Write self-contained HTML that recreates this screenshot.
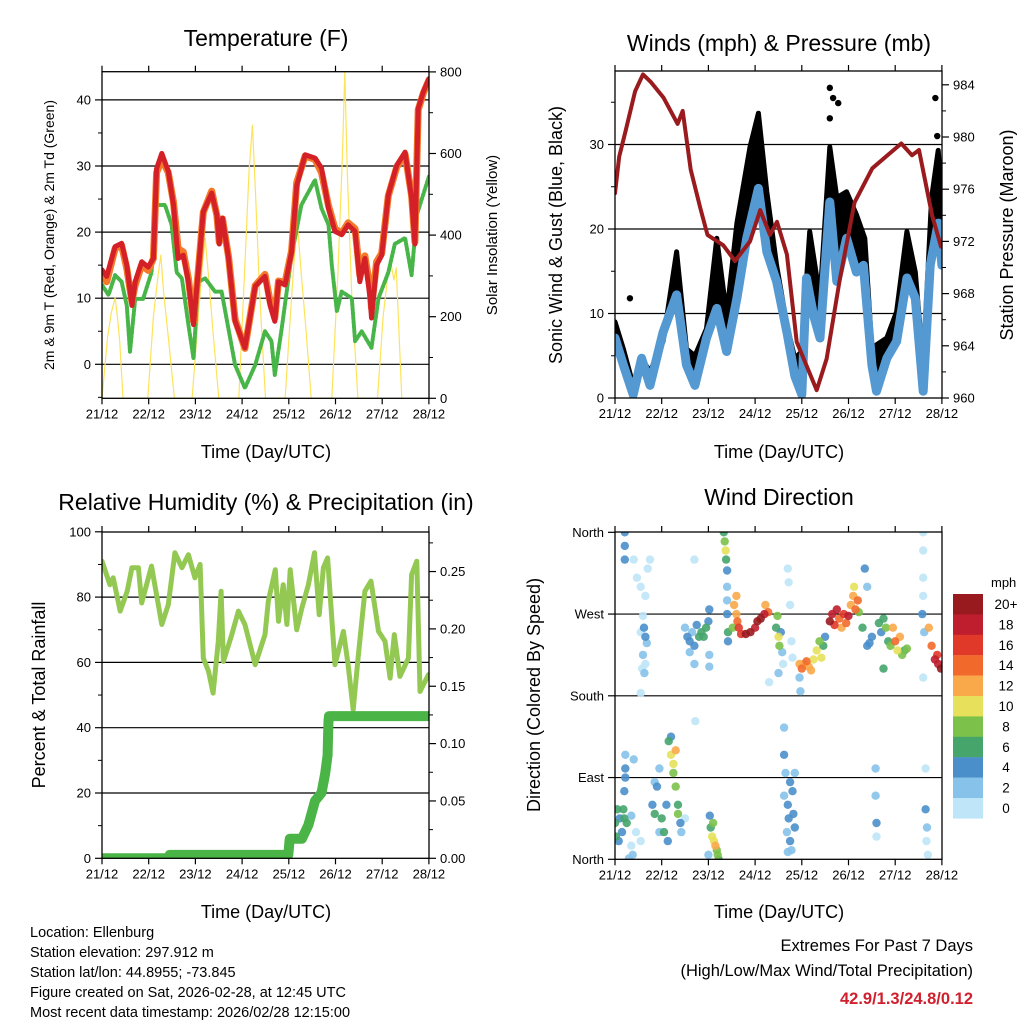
<!DOCTYPE html>
<html><head><meta charset="utf-8"><title>Ellenburg station meteogram</title>
<style>
html,body{margin:0;padding:0;background:#fff;}
svg{display:block;font-family:"Liberation Sans",Arial,sans-serif;}
</style></head>
<body>
<svg id="chart" width="1024" height="1024" viewBox="0 0 1024 1024" xmlns="http://www.w3.org/2000/svg">
<rect width="1024" height="1024" fill="#fff"/>
<g id="layer"></g>
<g font-size="23" text-anchor="middle" fill="#000">
 <text x="266" y="46">Temperature (F)</text>
 <text x="779" y="51">Winds (mph) &amp; Pressure (mb)</text>
 <text x="266" y="510">Relative Humidity (%) &amp; Precipitation (in)</text>
 <text x="779" y="505">Wind Direction</text>
</g>
<g font-size="18" text-anchor="middle" fill="#000">
 <text x="266" y="458">Time (Day/UTC)</text>
 <text x="779" y="458">Time (Day/UTC)</text>
 <text x="266" y="918">Time (Day/UTC)</text>
 <text x="779" y="918">Time (Day/UTC)</text>
 <text font-size="14" transform="translate(54,235) rotate(-90)">2m &amp; 9m T (Red, Orange) &amp; 2m Td (Green)</text>
 <text font-size="15" transform="translate(497,235) rotate(-90)">Solar Insolation (Yellow)</text>
 <text transform="translate(562,235) rotate(-90)">Sonic Wind &amp; Gust (Blue, Black)</text>
 <text transform="translate(1013,235) rotate(-90)">Station Pressure (Maroon)</text>
 <text transform="translate(45,695) rotate(-90)">Percent &amp; Total Rainfall</text>
 <text transform="translate(540,695) rotate(-90)">Direction (Colored By Speed)</text>
</g>
<g font-size="14.5" fill="#000">
 <text x="30" y="937">Location: Ellenburg</text>
 <text x="30" y="957">Station elevation: 297.912 m</text>
 <text x="30" y="977">Station lat/lon: 44.8955; -73.845</text>
 <text x="30" y="997">Figure created on Sat, 2026-02-28, at 12:45 UTC</text>
 <text x="30" y="1017">Most recent data timestamp: 2026/02/28 12:15:00</text>
</g>
<g font-size="16.5" text-anchor="end" fill="#000">
 <text x="973" y="951">Extremes For Past 7 Days</text>
 <text x="973" y="976">(High/Low/Max Wind/Total Precipitation)</text>
 <text x="973" y="1004" font-weight="bold" fill="#d0202e">42.9/1.3/24.8/0.12</text>
</g>
</svg>
<script>
// ---------- data ----------
const dayLabels = ["21/12","22/12","23/12","24/12","25/12","26/12","27/12","28/12"];
const tempTicks = [0,10,20,30,40];
const solarTicks = [0,200,400,600,800];
const windTicks = [0,10,20,30];
const presTicks = [960,964,968,972,976,980,984];
const rhTicks = [0,20,40,60,80,100];
const precipTicks = [0,0.05,0.10,0.15,0.20,0.25];
const dirTicks = [0,90,180,270,360];
const dirLabels = ["North","East","South","West","North"];
const speedBins = ["0","2","4","6","8","10","12","14","16","18","20+"];
const speedColors = ["#bfe5f8","#86c2ea","#4a8fca","#45a56b","#7bc14a","#e6e05a","#f9a84a","#f26a2b","#e0392a","#be1e2d","#981a1e"];

const t2mTimes = [0,0.1,0.28,0.42,0.53,0.64,0.71,0.85,0.99,1.1,1.17,1.28,1.42,1.53,1.63,1.74,1.85,1.96,2.06,2.17,2.35,2.46,2.51,2.58,2.71,2.85,3.06,3.28,3.49,3.6,3.7,3.78,3.92,4.06,4.17,4.35,4.56,4.7,4.85,4.99,5.13,5.27,5.42,5.52,5.63,5.74,5.77,5.88,5.99,6.13,6.31,6.49,6.63,6.7,6.77,6.88,7.0];
const t2mValues = [14.3,13.3,17.8,18.3,15,8.9,12.5,15.5,14.7,16,29.6,31.9,29.2,24.1,16,16.5,12.5,6,14,23.1,25.9,22.6,18.2,22.1,16,6.5,2.5,11.8,13.3,8.9,6.5,12.5,12,17,27,31.7,31.2,29.7,23.6,20.1,19.6,21.1,20.1,12.5,16,10,7,15,16.5,25.6,30.1,32.1,25.1,18.2,38.7,41.2,43.2];
const t9mValues = [13.5,12.5,17.5,18,14.5,9.5,12,15,14.2,16,29,31,29,24.5,17.5,17,13,6.5,14,23,26.2,22.5,18.5,22,16.2,6.8,2.4,11.9,13.6,9.5,7,12.6,12.4,17.2,27.5,31.5,31,29,24,20.5,19.8,21.4,20.5,13.5,16.4,11.5,8.5,15.5,16.8,25.5,29.8,31.8,25.5,18.5,38.5,41,43];
const tdTimes = [0,0.14,0.28,0.42,0.53,0.6,0.71,0.88,1.06,1.17,1.35,1.49,1.6,1.71,1.85,1.96,2.06,2.21,2.42,2.56,2.85,3.06,3.28,3.49,3.63,3.7,3.85,4.06,4.27,4.56,4.7,4.85,4.92,5.03,5.13,5.35,5.42,5.56,5.77,5.92,6.13,6.27,6.49,6.63,6.74,7.0];
const tdValues = [12,10.5,13.5,12.5,8.9,1.9,9.9,9.9,13.9,24.1,24.1,21.1,13.9,13,6,0.9,12.5,13,11,11,-0.1,-3.6,-0.1,5,3.5,-1.6,5.5,16.5,24.1,27.9,23.6,21.1,15,8,11,10,3.5,5,2.5,10,13.9,18.2,19.1,13.5,22.6,28.4];
const solarTimes = [0,0.12,0.2,0.28,0.33,0.38,0.45,0.98,1.1,1.2,1.26,1.32,1.42,1.55,1.93,2.05,2.15,2.21,2.28,2.38,2.5,2.93,3.05,3.15,3.22,3.28,3.38,3.5,3.92,4.05,4.14,4.2,4.27,4.36,4.48,4.92,5.05,5.15,5.2,5.25,5.35,5.48,5.9,6.02,6.12,6.17,6.25,6.3,6.42];
const solarValues = [0,150,210,246,200,140,0,0,200,300,351,260,150,0,0,180,330,392,300,160,0,0,300,560,669,520,250,0,0,230,380,408,300,180,0,0,300,600,800,560,250,0,0,200,300,343,290,320,0];

const windTimes = [0,0.18,0.39,0.57,0.75,1.03,1.32,1.53,1.71,1.96,2.18,2.39,2.61,2.82,3.07,3.25,3.46,3.68,3.85,4.0,4.1,4.25,4.39,4.6,4.75,4.96,5.17,5.32,5.5,5.6,5.82,6.03,6.25,6.43,6.6,6.75,6.92,7.0];
const windValues = [7.1,3.9,0.4,4.7,1.5,7.8,12.2,3.9,1.5,7.1,10.6,5.5,11.8,18.9,24.8,17.3,13.8,7.8,2.6,0.4,14.2,9.8,7.1,23.2,13.8,18.9,14.9,15.7,3.9,0.8,4.7,6.7,14.2,11.8,0.8,15.7,20.7,15.7];
const gustTimes = [0,0.18,0.39,0.57,0.75,1.03,1.32,1.53,1.71,1.96,2.18,2.39,2.61,2.89,3.07,3.25,3.46,3.68,3.85,4.0,4.17,4.39,4.6,4.75,4.96,5.17,5.35,5.5,5.6,5.82,6.03,6.25,6.43,6.6,6.78,6.92,7.0];
const gustValues = [9,5.8,1.5,4.7,3.1,6.7,17.3,5.8,5,8.2,18.9,9.8,20.7,29.7,33.7,24.4,15.7,8.6,4.7,5.5,19.7,11.8,29.7,23.7,24.4,21.7,18.9,5.8,6.3,7.1,10.2,19.7,14.9,3.9,23.7,29.3,23.7];
const gustOutlierTimes = [0.32,4.6,4.67,4.78,4.6,4.75,6.86,6.9];
const gustOutlierValues = [11.8,36.7,35.5,34.9,33.1,22,35.5,31];
const presTimes = [0,0.09,0.23,0.43,0.6,0.77,1.04,1.34,1.45,1.62,1.83,1.98,2.32,2.57,2.89,3.11,3.32,3.47,3.68,3.89,4.32,4.53,4.81,5.13,5.51,6.13,6.36,6.51,6.79,6.98];
const presValues = [975.7,978.5,980.5,983.5,984.8,984.2,983,981,982,977.5,974.5,972.5,971.7,970.5,972,974.4,972.5,973.5,971,964.3,960.6,963,969,975,977.6,979.5,978.6,979,974,971.6];

const rhTimes = [0,0.17,0.24,0.39,0.54,0.64,0.78,0.85,1.06,1.28,1.42,1.56,1.71,1.85,1.99,2.1,2.17,2.28,2.38,2.49,2.55,2.6,2.78,2.92,3.06,3.28,3.49,3.56,3.71,3.78,3.88,3.96,4.03,4.17,4.28,4.42,4.55,4.65,4.74,4.83,4.99,5.17,5.27,5.38,5.49,5.63,5.76,5.92,6.06,6.17,6.26,6.38,6.56,6.63,6.74,6.81,6.99];
const rhValues = [91,83.8,85.9,75.7,81.8,89,89,78.2,89.5,71.6,77.7,93.6,89,93,85.9,90,61.3,57.3,50.6,66.5,81.8,60.3,68.5,75.7,71.6,59.3,68.5,78.7,88.4,72.6,83.8,71.6,88.4,70,76.7,83.8,93.6,74.6,89,92,59.3,69.5,59.3,45.5,62.4,81.8,84.9,69.5,66.5,55.2,68.5,55.7,61.3,86.9,91,51.1,56.2];
const precipTimes = [0,1.42,1.45,3.99,4.02,4.28,4.42,4.56,4.7,4.78,4.83,4.84,4.85,4.86,7.0];
const precipValues = [0,0,0.003,0.003,0.017,0.017,0.029,0.05,0.057,0.074,0.09,0.105,0.12,0.124,0.124];

const dirTimes = [0.21,0.21,0.21,0.40,0.47,0.55,0.65,0.70,0.75,0.60,0.62,0.65,0.68,0.55,0.60,0.58,0.63,0.65,0.55,
1.5,1.55,1.6,1.65,1.7,1.75,1.8,1.85,1.9,1.95,2.0,2.02,1.6,1.7,2.02,2.02,1.7,
2.33,2.35,2.37,2.38,2.40,2.40,2.40,2.40,2.42,2.42,
2.55,2.6,2.65,2.7,2.62,2.52,2.6,
2.8,2.9,3.0,3.05,3.12,3.2,3.22,3.28,
3.45,3.5,3.52,3.48,3.55,3.58,3.6,3.3,3.5,3.7,3.72,3.75,3.78,3.8,
3.95,4.0,4.05,4.1,4.15,4.2,4.25,3.95,3.97,
4.32,4.38,4.42,4.46,4.5,
4.6,4.65,4.7,4.75,4.8,4.85,4.9,4.95,5.0,5.05,5.1,5.12,5.15,5.22,5.2,
5.35,5.4,5.3,5.45,5.5,5.4,
5.65,5.7,5.75,5.8,5.85,5.9,5.75,
5.95,6.0,6.05,6.1,6.15,6.2,6.25,
6.6,6.6,6.6,6.6,6.58,6.62,6.6,
6.72,6.78,6.85,6.92,6.98,6.9,
0.0,0.02,0.05,0.1,0.15,0.18,0.2,0.25,0.08,0.2,0.22,0.22,0.22,0.3,0.35,0.38,0.45,0.4,0.55,0.35,
0.8,0.85,0.9,0.95,1.0,1.05,1.1,0.95,1.13,0.85,
1.15,1.2,1.25,1.3,1.25,1.3,1.35,1.35,1.4,1.42,1.2,
1.72,1.5,
2.03,2.05,2.08,2.12,2.15,2.18,2.2,2.22,2.1,2.0,
3.62,3.62,3.65,3.62,3.7,3.72,3.68,3.75,3.78,3.8,3.82,3.85,3.75,3.85,3.7,
5.58,5.58,5.6,5.6,
6.65,6.65,6.68,6.67,6.7];
const dirValues = [360,345,330,330,310,300,290,320,330,268,255,245,238,250,225,210,205,215,183,
255,245,240,250,235,258,245,250,245,255,262,275,228,215,225,212,330,
360,350,340,330,318,300,285,270,250,240,
280,270,255,248,262,255,290,
248,250,255,262,265,270,280,272,
255,245,235,268,250,228,215,195,205,320,305,280,240,222,
215,210,215,218,212,208,220,200,185,
230,240,222,235,245,
262,270,258,275,265,255,270,260,268,280,290,300,275,272,285,
320,300,255,238,245,235,
260,250,265,255,240,235,210,
255,240,230,245,225,230,232,
360,340,310,290,270,250,200,
255,235,220,215,210,225,
40,25,55,45,30,55,45,40,20,75,90,100,115,1,15,5,30,110,20,48,
60,50,80,100,45,30,60,30,20,85,
130,115,105,120,95,80,60,50,40,30,135,
152,45,
48,35,25,20,15,10,5,0,40,5,
145,115,95,70,60,45,30,20,10,75,50,95,85,35,8,
100,70,40,25,
100,55,35,20,5];
const dirSpeeds = [4,4,4,0,0,0,0,0,0,0,4,4,2,0,2,0,2,0,0,
2,4,4,2,4,4,6,6,6,6,4,4,2,2,2,2,0,
6,8,10,6,4,2,2,4,6,4,
12,12,16,16,14,8,12,
20,20,18,20,20,18,12,14,
6,10,8,8,4,2,0,0,2,0,0,0,0,0,
12,14,12,14,12,12,10,2,2,
10,8,10,6,4,
20,18,16,18,14,12,16,14,18,12,12,10,14,8,14,
4,2,6,4,4,4,
6,4,6,8,6,8,6,
12,14,10,12,8,6,8,
0,0,0,0,4,2,0,
12,14,18,18,20,16,
6,6,6,4,4,6,6,6,4,4,4,4,2,2,0,2,0,2,0,2,
4,6,4,2,6,6,4,2,4,2,
6,10,10,12,8,8,6,8,4,2,4,
0,0,
4,6,10,10,12,8,8,6,8,2,
2,4,2,2,4,4,2,4,2,4,4,2,4,4,2,
2,2,4,0,
0,4,2,0,0];

// ---------- helpers ----------
const NS = "http://www.w3.org/2000/svg";
const layer = document.getElementById("layer");
function el(tag, parent){ const e=document.createElementNS(NS,tag); (parent||layer).appendChild(e); return e; }
function pathFrom(ts, vs, fx, fy){ let d=""; for(let i=0;i<ts.length;i++){ d+=(i?"L":"M")+fx(ts[i]).toFixed(1)+","+fy(vs[i]).toFixed(1);} return d; }
function pathBack(ts, vs, fx, fy){ let d=""; for(let i=ts.length-1;i>=0;i--){ d+="L"+fx(ts[i]).toFixed(1)+","+fy(vs[i]).toFixed(1);} return d; }

// ---------- scales ----------
const tx = t => 102 + t*46.7;
const ty = v => 364.3 - v*6.61;
const sy = s => 398.3 - s*0.408;
const wx = t => 615 + t*46.7;
const wy = v => 398 - v*8.45;
const py = p => 398 - (p-960)*13.05;
const ry = v => 858.3 - v*3.265;
const pry = p => 858.3 - p*1147;
const dy = d => 859.3 - d*0.9083;

function clip(id, x, y, w, h){
  const c=el("clipPath"); c.setAttribute("id",id);
  const r=el("rect",c); r.setAttribute("x",x); r.setAttribute("y",y); r.setAttribute("width",w); r.setAttribute("height",h);
}
clip("c1",102,71.7,327,326.6); clip("c2",615,71,327,327); clip("c3",102,532,327,326.3); clip("c4",615,532,327,327.3);

function gridlines(g, vals, fy, x0, x1){
  for(const v of vals){ const y=fy(v); if(y<=72.5||Math.abs(y-398)<1||Math.abs(y-858.3)<1.5||Math.abs(y-532)<1.5||Math.abs(y-859.3)<1.5) continue;
    const l=el("line",g);
    
    
    l.setAttribute("x1",x0); l.setAttribute("x2",x1); l.setAttribute("y1",y); l.setAttribute("y2",y); l.setAttribute("stroke","#000"); l.setAttribute("stroke-width","1.2"); }
}
function frame(g, x0,y0,x1,y1){
  const r=el("rect",g);
  
  
  r.setAttribute("x",x0); r.setAttribute("y",y0); r.setAttribute("width",x1-x0); r.setAttribute("height",y1-y0); r.setAttribute("fill","none"); r.setAttribute("stroke","#000"); r.setAttribute("stroke-width","1.3");
}
function xAxis(g, fx, y0, y1){
  for(let i=0;i<dayLabels.length;i++){
    const x=fx(i);
    for(const [ya,yb] of [[y1,y1+6],[y0,y0-6]]){ const l=el("line",g);
      
      
      l.setAttribute("x1",x); l.setAttribute("x2",x); l.setAttribute("y1",ya); l.setAttribute("y2",yb); l.setAttribute("stroke","#000"); l.setAttribute("stroke-width","1.2"); }
    const t=el("text",g);
    
    
    t.setAttribute("x",x); t.setAttribute("y",y1+20); t.setAttribute("font-size","13"); t.setAttribute("text-anchor","middle"); t.textContent=dayLabels[i];
  }
}
function yAxis(g, vals, labels, fy, xEdge, side, minorVals){
  const dir = side==="left"?-1:1;
  for(const v of (minorVals||[])){ const y=fy(v); const l=el("line",g);
    
    
    l.setAttribute("x1",xEdge); l.setAttribute("x2",xEdge+dir*4); l.setAttribute("y1",y); l.setAttribute("y2",y); l.setAttribute("stroke","#000"); l.setAttribute("stroke-width","1"); }
  vals.forEach((v,i)=>{ const y=fy(v); const l=el("line",g);
    
    
    l.setAttribute("x1",xEdge); l.setAttribute("x2",xEdge+dir*7); l.setAttribute("y1",y); l.setAttribute("y2",y); l.setAttribute("stroke","#000"); l.setAttribute("stroke-width","1.2");
    const t=el("text",g);
    
    
    t.setAttribute("x",xEdge+dir*11); t.setAttribute("y",y+4.5); t.setAttribute("font-size","13"); t.setAttribute("text-anchor",side==="left"?"end":"start"); t.textContent=labels[i]; });
}
function series(g, d, stroke, width, extra){
  const p=el("path",g); p.setAttribute("d",d); p.setAttribute("fill","none"); p.setAttribute("stroke",stroke); p.setAttribute("stroke-width",width); p.setAttribute("stroke-linejoin","round"); p.setAttribute("stroke-linecap","round");
  if(extra) p.setAttribute("stroke-dasharray",extra);
  return p;
}

// ---------- panel 1: temperature ----------
const g1=el("g");  
gridlines(g1,tempTicks,ty,102,429);
const d1=el("g",g1); d1.setAttribute("clip-path","url(#c1)");
const solar=series(d1,pathFrom(solarTimes,solarValues,tx,sy),"#fde35a","1.2");


const td=series(d1,pathFrom(tdTimes,tdValues,tx,ty),"#47b548","4","2.5 2");


const t9=series(d1,pathFrom(t2mTimes,t9mValues,tx,ty),"#f47a2a","7");


const t2=series(d1,pathFrom(t2mTimes,t2mValues,tx,ty),"#d42027","5");


frame(g1,102,71.7,429,398.3);
xAxis(g1,tx,71.7,398.3);
yAxis(g1,tempTicks,tempTicks.map(String),ty,102,"left",[-5,5,15,25,35]);
yAxis(g1,solarTicks,solarTicks.map(String),sy,429,"right",[100,300,500,700]);

// ---------- panel 2: winds ----------
const g2=el("g");  
gridlines(g2,windTicks,wy,615,942);
const d2=el("g",g2); d2.setAttribute("clip-path","url(#c2)");
const band=el("path",d2);


band.setAttribute("d",pathFrom(gustTimes,gustValues,wx,wy)+pathBack(windTimes,windValues,wx,wy)+"Z");
band.setAttribute("fill","#000"); band.setAttribute("stroke","#000"); band.setAttribute("stroke-width","5"); band.setAttribute("stroke-linejoin","round");
for(let i=0;i<gustOutlierTimes.length;i++){ const c=el("circle",d2);
  
  
  c.setAttribute("cx",wx(gustOutlierTimes[i])); c.setAttribute("cy",wy(gustOutlierValues[i])); c.setAttribute("r","3.2"); c.setAttribute("fill","#000"); }
const wind=series(d2,pathFrom(windTimes,windValues,wx,wy),"#5499d2","9");


const pres=series(d2,pathFrom(presTimes,presValues,wx,py),"#9a1b1e","4");


frame(g2,615,71,942,398);
xAxis(g2,wx,71,398);
yAxis(g2,windTicks,windTicks.map(String),wy,615,"left",[5,15,25,35]);
yAxis(g2,presTicks,presTicks.map(String),py,942,"right",[962,966,970,974,978,982]);

// ---------- panel 3: humidity & precip ----------
const g3=el("g");  
gridlines(g3,rhTicks,ry,102,429);
const d3=el("g",g3); d3.setAttribute("clip-path","url(#c3)");
const rh=series(d3,pathFrom(rhTimes,rhValues,tx,ry),"#93c953","5");


const pr=series(d3,pathFrom(precipTimes,precipValues,tx,pry),"#4bb447","10");


frame(g3,102,532,429,858.3);
xAxis(g3,tx,532,858.3);
yAxis(g3,rhTicks,rhTicks.map(String),ry,102,"left",[10,30,50,70,90]);
yAxis(g3,precipTicks,precipTicks.map(v=>v.toFixed(2)),pry,429,"right",[0.025,0.075,0.125,0.175,0.225,0.275]);

// ---------- panel 4: wind direction ----------
const g4=el("g");  
gridlines(g4,dirTicks,dy,615,942);
const d4=el("g",g4); d4.setAttribute("clip-path","url(#c4)");
function binOf(s){ return Math.max(0,Math.min(10,Math.round(s/2))); }
const order=dirTimes.map((_,i)=>i).sort((a,b)=>dirSpeeds[a]-dirSpeeds[b]);
for(const i of order){ const c=el("circle",d4);
  
  
  c.setAttribute("cx",wx(dirTimes[i]).toFixed(1)); c.setAttribute("cy",dy(dirValues[i]).toFixed(1)); c.setAttribute("r","4.2"); c.setAttribute("fill",speedColors[binOf(dirSpeeds[i])]); c.setAttribute("fill-opacity","0.9"); }
frame(g4,615,532,942,859.3);
xAxis(g4,wx,532,859.3);
yAxis(g4,dirTicks,dirLabels,dy,615,"left",[]);

// colorbar
const cb=el("g");  
const mph=el("text",cb);


mph.setAttribute("x","991"); mph.setAttribute("y","587"); mph.setAttribute("font-size","13"); mph.textContent="mph";
for(let k=0;k<speedBins.length;k++){
  const idx=speedBins.length-1-k; const y=594+k*20.4;
  const r=el("rect",cb);
  
  
  r.setAttribute("x","953"); r.setAttribute("y",y.toFixed(1)); r.setAttribute("width","30"); r.setAttribute("height","20.6"); r.setAttribute("fill",speedColors[idx]);
  const t=el("text",cb);
  
  
  t.setAttribute("x","1006"); t.setAttribute("y",(y+15).toFixed(1)); t.setAttribute("font-size","13.5"); t.setAttribute("text-anchor","middle"); t.textContent=speedBins[idx];
}
</script>
</body></html>
